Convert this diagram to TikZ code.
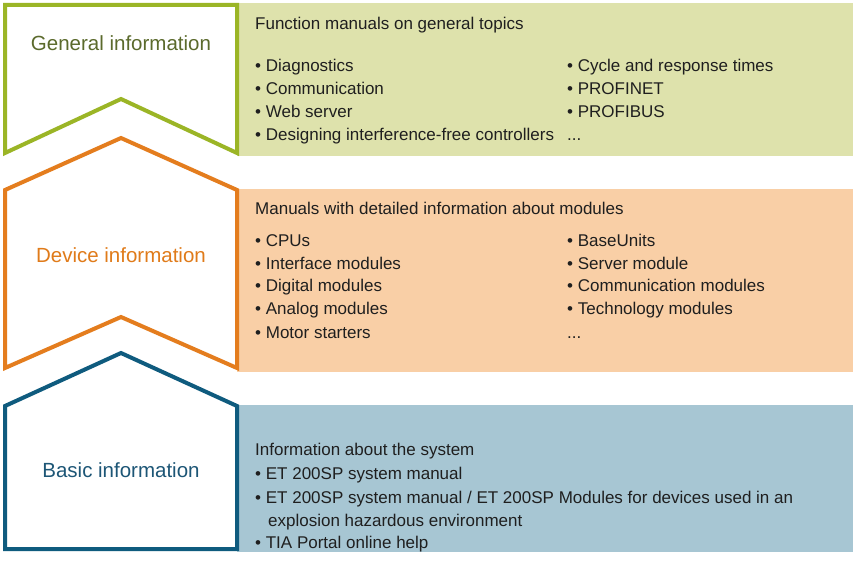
\documentclass[tikz,border=0pt]{standalone}
\usepackage{fontspec}
\setmainfont{Liberation Sans}
\usetikzlibrary{positioning}

\definecolor{genline}{HTML}{9BB526}
\definecolor{genfill}{HTML}{DEE2AC}
\definecolor{gentext}{HTML}{5B6A2C}
\definecolor{devline}{HTML}{E47D1E}
\definecolor{devfill}{HTML}{F9CFA6}
\definecolor{devtext}{HTML}{E07B1A}
\definecolor{basline}{HTML}{0F5B7E}
\definecolor{basfill}{HTML}{A7C6D3}
\definecolor{bastext}{HTML}{1D5676}

\tikzset{
  house/.style={line width=4pt, line join=miter, fill=white},
  title/.style={font=\fontsize{20.5}{24}\selectfont, anchor=base, inner sep=0pt},
  head/.style={font=\fontsize{17}{23}\selectfont, anchor=base west, inner sep=0pt, text=black!88},
  item/.style={font=\fontsize{17}{23}\selectfont, anchor=base west, inner sep=0pt, text=black!88}
}

\begin{document}
\begin{tikzpicture}[x=1pt,y=-1pt]
\useasboundingbox[fill=white] (0,0) rectangle (857,561);

% general information
\begin{scope}
\fill[genfill] (237,3) rectangle (853,156);
\coordinate (g-tl) at (5,5);
\coordinate (g-tr) at (237,5);
\coordinate (g-br) at (237,153);
\coordinate (g-nt) at (121,99);
\coordinate (g-bl) at (5,153);
\draw[house, draw=genline] (g-tl) -- (g-tr) -- (g-br) -- (g-nt) -- (g-bl) -- cycle;
\node[title, text=gentext] (g-title) at (121,50.5) {General information};

\node[head] (g-head) at (255,30) {Function manuals on general topics};
\node[item] (g-1) at (255,72) {• Diagnostics};
\node[item] (g-2) at (255,95) {• Communication};
\node[item] (g-3) at (255,118) {• Web server};
\node[item] (g-4) at (255,141) {• Designing interference-free controllers};
\node[item] (g-5) at (567,72) {• Cycle and response times};
\node[item] (g-6) at (567,95) {• PROFINET};
\node[item] (g-7) at (567,118) {• PROFIBUS};
\node[item] (g-8) at (567,141) {...};
\end{scope}

% device information
\begin{scope}
\fill[devfill] (237,189) rectangle (853,372);
\coordinate (d-ap) at (121,138);
\coordinate (d-tr) at (237,190);
\coordinate (d-br) at (237,368);
\coordinate (d-nt) at (121,317);
\coordinate (d-bl) at (5,368);
\coordinate (d-tl) at (5,190);
\draw[house, draw=devline] (d-ap) -- (d-tr) -- (d-br) -- (d-nt) -- (d-bl) -- (d-tl) -- cycle;
\node[title, text=devtext] (d-title) at (121,262.5) {Device information};

\node[head] (d-head) at (255,215) {Manuals with detailed information about modules};
\node[item] (d-1) at (255,247) {• CPUs};
\node[item] (d-2) at (255,270) {• Interface modules};
\node[item] (d-3) at (255,292) {• Digital modules};
\node[item] (d-4) at (255,315) {• Analog modules};
\node[item] (d-5) at (255,338) {• Motor starters};
\node[item] (d-6) at (567,247) {• BaseUnits};
\node[item] (d-7) at (567,270) {• Server module};
\node[item] (d-8) at (567,292) {• Communication modules};
\node[item] (d-9) at (567,315) {• Technology modules};
\node[item] (d-10) at (567,338) {...};
\end{scope}

% basic information
\begin{scope}
\fill[basfill] (237,405) rectangle (853,552);
\coordinate (b-ap) at (121,353);
\coordinate (b-tr) at (237,406);
\coordinate (b-br) at (237,549);
\coordinate (b-bl) at (5,549);
\coordinate (b-tl) at (5,406);
\draw[house, draw=basline] (b-ap) -- (b-tr) -- (b-br) -- (b-bl) -- (b-tl) -- cycle;
\node[title, text=bastext] (b-title) at (121,477.5) {Basic information};

\node[head] (b-head) at (255,455) {Information about the system};
\node[item] (b-1) at (255,479) {• ET 200SP system manual};
\node[item] (b-2) at (255,503) {• ET 200SP system manual / ET 200SP Modules for devices used in an};
\node[item] (b-3) at (268,526) {explosion hazardous environment};
\node[item] (b-4) at (255,548) {• TIA Portal online help};
\end{scope}

\end{tikzpicture}
\end{document}
